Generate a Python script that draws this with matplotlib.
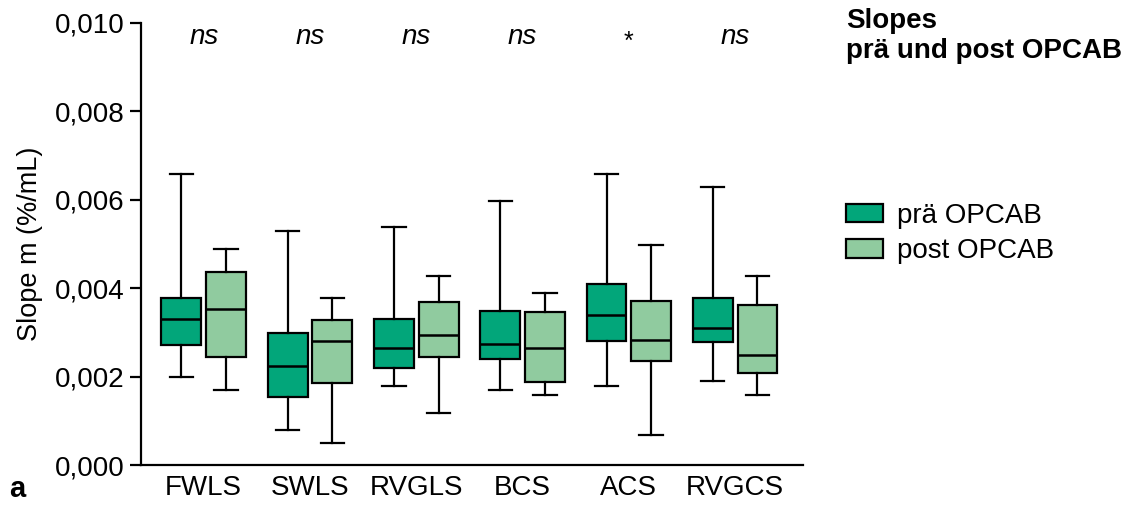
import matplotlib.pyplot as plt
from matplotlib.patches import Patch

plt.rcParams['font.family'] = ['Liberation Sans', 'DejaVu Sans']

categories = ["FWLS", "SWLS", "RVGLS", "BCS", "ACS", "RVGCS"]
signif = ["ns", "ns", "ns", "ns", "*", "ns"]

# whisker low, q1, median, q3, whisker high
pre_low = [0.00199, 0.00079, 0.00179, 0.00170, 0.00179, 0.00190]
pre_q1 = [0.00271, 0.00154, 0.00220, 0.00240, 0.00280, 0.00278]
pre_med = [0.00330, 0.00224, 0.00264, 0.00274, 0.00339, 0.00310]
pre_q3 = [0.00378, 0.00299, 0.00330, 0.00348, 0.00410, 0.00378]
pre_high = [0.00658, 0.00529, 0.00538, 0.00598, 0.00658, 0.00629]

post_low = [0.00170, 0.00050, 0.00118, 0.00158, 0.00068, 0.00158]
post_q1 = [0.00245, 0.00186, 0.00245, 0.00188, 0.00235, 0.00208]
post_med = [0.00353, 0.00280, 0.00294, 0.00264, 0.00283, 0.00249]
post_q3 = [0.00437, 0.00328, 0.00369, 0.00347, 0.00371, 0.00362]
post_high = [0.00489, 0.00378, 0.00428, 0.00389, 0.00498, 0.00428]

pre_color = "#02a67a"
post_color = "#90cb9f"


def make_stats(lo, q1, med, q3, hi):
    return [dict(whislo=a, q1=b, med=c, q3=d, whishi=e, fliers=[])
            for a, b, c, d, e in zip(lo, q1, med, q3, hi)]


fig = plt.figure(figsize=(11.28, 5.11), dpi=100)
ax = fig.add_axes([0.125, 0.090, 0.587, 0.865])

off = 0.21
width = 0.375
props = dict(
    widths=width, patch_artist=True, showfliers=False, capwidths=0.22,
    boxprops=dict(edgecolor="black", linewidth=1.6),
    medianprops=dict(color="black", linewidth=1.8),
    whiskerprops=dict(color="black", linewidth=1.6),
    capprops=dict(color="black", linewidth=1.6),
)

pos = list(range(len(categories)))
b1 = ax.bxp(make_stats(pre_low, pre_q1, pre_med, pre_q3, pre_high),
            positions=[p - off for p in pos], **props)
b2 = ax.bxp(make_stats(post_low, post_q1, post_med, post_q3, post_high),
            positions=[p + off for p in pos], **props)
for b in b1["boxes"]:
    b.set_facecolor(pre_color)
for b in b2["boxes"]:
    b.set_facecolor(post_color)

ax.set_xlim(-0.59, 5.64)
ax.set_ylim(0, 0.010)
ax.set_yticks([0, 0.002, 0.004, 0.006, 0.008, 0.010])
ax.set_yticklabels(["0,000", "0,002", "0,004", "0,006", "0,008", "0,010"])
ax.set_xticks(pos)
ax.set_xticklabels(categories)
ax.tick_params(axis="x", length=0, labelsize=20, pad=7)
ax.tick_params(axis="y", length=8, width=1.6, labelsize=20, pad=4)
ax.spines["top"].set_visible(False)
ax.spines["right"].set_visible(False)
ax.spines["left"].set_linewidth(1.6)
ax.spines["bottom"].set_linewidth(1.6)
ax.set_ylabel("Slope m (%/mL)", fontsize=19.5, labelpad=8)

for p, s in zip(pos, signif):
    if s == "*":
        ax.text(p, 0.00958, s, ha="center", va="center", fontsize=18)
    else:
        ax.text(p, 0.00968, s, ha="center", va="center", fontsize=20, style="italic")

fig.text(0.750, 0.985, "Slopes\nprä und post OPCAB", fontsize=20, fontweight="bold",
         ha="left", va="top", linespacing=1.2)

handles = [Patch(facecolor=pre_color, edgecolor="black", linewidth=1.6),
           Patch(facecolor=post_color, edgecolor="black", linewidth=1.6)]
fig.legend(handles, ["prä OPCAB", "post OPCAB"], loc="center left",
           bbox_to_anchor=(0.750, 0.543), frameon=False, fontsize=20,
           borderpad=0, borderaxespad=0,
           handlelength=1.33, handleheight=0.65, handletextpad=0.5, labelspacing=0.33)

fig.text(0.008, 0.015, "a", fontsize=21, fontweight="bold", ha="left", va="bottom")

fig.savefig("out.png", dpi=100)
